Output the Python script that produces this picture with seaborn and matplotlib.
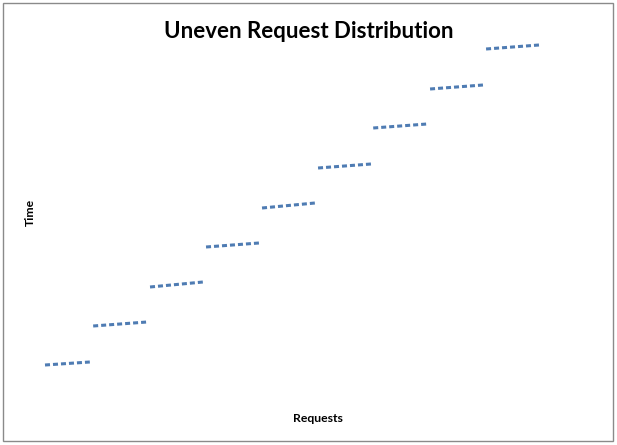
import matplotlib
matplotlib.use('Agg')
import matplotlib.pyplot as plt
import seaborn as sns
import pandas as pd
from matplotlib.patches import Rectangle

# each step: a burst of requests served while time barely moves
step = [1, 2, 3, 4, 5, 6, 7, 8, 9]
req_start = [0.0, 8.6, 18.75, 28.75, 38.75, 48.75, 58.6, 68.75, 78.75]
req_end = [8.0, 18.2, 28.2, 38.2, 48.2, 58.2, 68.2, 78.2, 88.2]
time_start = [0.0, 9.75, 19.5, 29.5, 39.25, 49.25, 59.25, 69.0, 79.0]
time_end = [0.75, 10.75, 20.75, 30.5, 40.5, 50.25, 60.25, 70.0, 80.0]

rows = []
for s, x0, x1, y0, y1 in zip(step, req_start, req_end, time_start, time_end):
    rows.append({'step': s, 'Requests': x0, 'Time': y0})
    rows.append({'step': s, 'Requests': x1, 'Time': y1})
df = pd.DataFrame(rows)

sns.set_style('white')
fig = plt.figure(figsize=(6.17, 4.45), dpi=100)
ax = fig.add_axes([45 / 617, 80 / 445, 494 / 617, 320 / 445])

sns.lineplot(data=df, x='Requests', y='Time', units='step', estimator=None,
             color='#4F7CB3', linewidth=2.2, linestyle=(0, (1.64, 0.98)),
             ax=ax)
for line in ax.get_lines():
    line.set_clip_on(False)
    line.set_dash_capstyle('butt')

ax.set_xlim(0, 88.2)
ax.set_ylim(0, 80)
ax.set_xticks([])
ax.set_yticks([])
ax.set_xlabel('')
ax.set_ylabel('')
sns.despine(ax=ax, left=True, bottom=True)

fig.text(309 / 617, 1 - 32 / 445, 'Uneven Request Distribution', ha='center', va='center',
         fontsize=16, fontweight='bold', family='Lato', color='black')
fig.text(318 / 617, 1 - 418 / 445, 'Requests', ha='center', va='center',
         fontsize=8.8, fontweight='bold', family='Lato', color='black')
fig.text(30 / 617, 1 - 212 / 445, 'Time', ha='center', va='center', rotation=90,
         fontsize=8.8, fontweight='bold', family='Lato', color='black')

fig.patches.append(Rectangle((3 / 617, 4 / 445), 610 / 617, 438 / 445, fill=False,
                             edgecolor='#8a8a8a', linewidth=1.0, transform=fig.transFigure))

fig.savefig('out.png', dpi=100)
